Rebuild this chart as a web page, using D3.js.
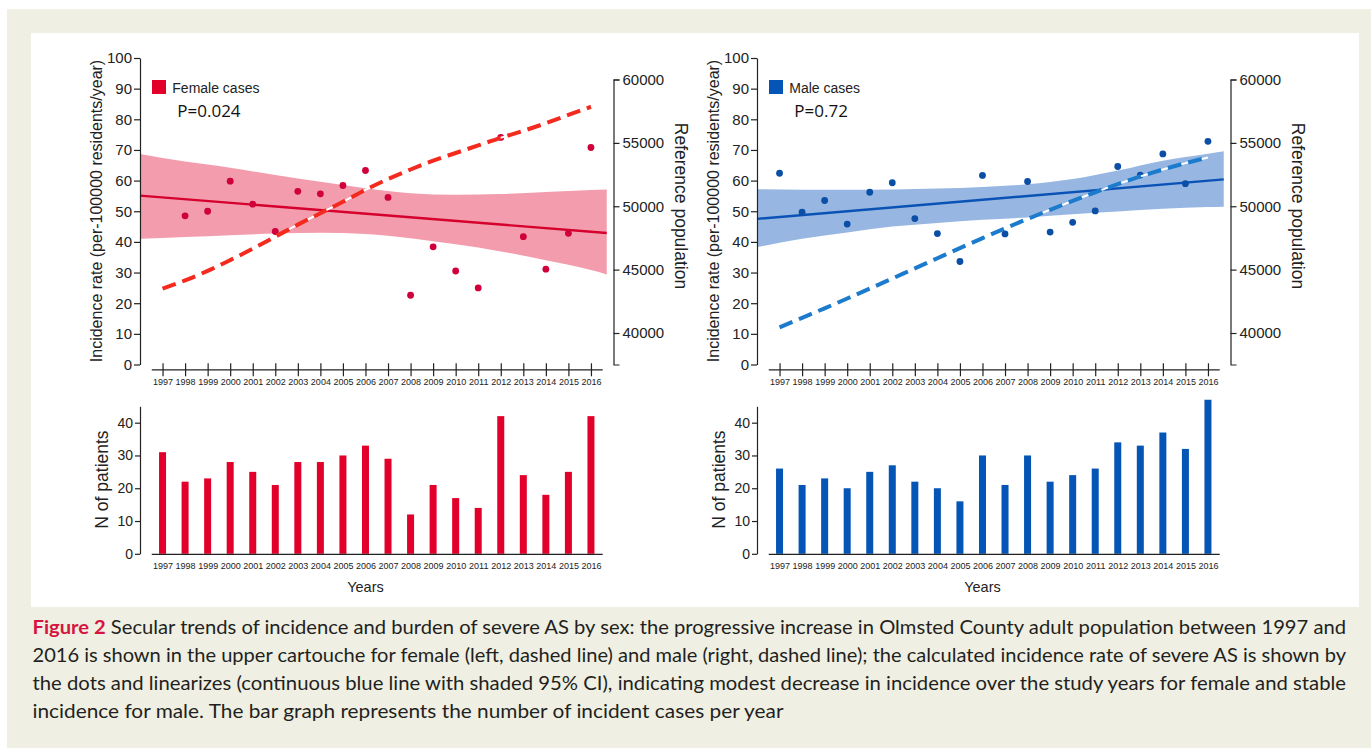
<!DOCTYPE html>
<meta charset="utf-8">

<!-- Load d3.js -->
<script src="https://d3js.org/d3.v7.min.js"></script>

<style>
  body {margin: 0; background: #fff;}
  svg {display: block; font-family: Arial, "Liberation Sans", sans-serif;}
</style>

<div id="my_dataviz"></div>

<script>

// ---- data ----
var years = [1997, 1998, 1999, 2000, 2001, 2002, 2003, 2004, 2005, 2006,
             2007, 2008, 2009, 2010, 2011, 2012, 2013, 2014, 2015, 2016];

// incidence rate (per 100000 residents/year), dots
var femaleRate = [null, 48.5, 50.0, 59.8, 52.3, 43.4, 56.5, 55.7, 58.4, 63.3,
                  54.5, 22.6, 38.4, 30.5, 25.0, 74.1, 41.7, 31.1, 42.8, 70.8];
var maleRate = [62.4, 49.7, 53.5, 45.8, 56.2, 59.3, 47.6, 42.7, 33.6, 61.7,
                42.6, 59.7, 43.2, 46.4, 50.1, 64.6, 61.8, 68.7, 59.0, 72.8];

// reference population, dashed lines
var femalePop = [43500, 44150, 44900, 45750, 46650, 47600, 48550, 49450, 50350, 51300,
                 52150, 52900, 53600, 54200, 54800, 55400, 55950, 56550, 57200, 57850];
var malePop = [40450, 41200, 41950, 42720, 43500, 44300, 45100, 45900, 46700, 47480,
               48250, 49000, 49720, 50420, 51100, 51750, 52350, 52900, 53400, 53850];

// N of patients, bars
var femaleN = [31, 22, 23, 28, 25, 21, 28, 28, 30, 33, 29, 12, 21, 17, 14, 42, 24, 18, 25, 42];
var maleN = [26, 21, 23, 20, 25, 27, 22, 20, 16, 30, 21, 30, 22, 24, 26, 34, 33, 37, 32, 47];

// linear fit and shaded 95% CI
var fitYears = [1996, 2016.7];
var femaleFit = [55.1, 42.9];
var maleFit = [47.5, 60.4];
var bandYears = [1996, 1998, 2000, 2002, 2004, 2006, 2008, 2010, 2012, 2014, 2016, 2016.7];
var femaleUpper = [68.7, 66.2, 64.2, 61.8, 59.6, 57.5, 55.9, 55.4, 55.6, 56.3, 56.9, 57.1];
var femaleLower = [41.0, 41.6, 42.2, 42.7, 43.0, 42.6, 41.2, 39.2, 36.9, 34.0, 30.8, 29.4];
var maleUpper = [57.2, 57.0, 57.0, 57.1, 57.4, 57.9, 58.8, 60.5, 63.3, 66.5, 68.8, 69.6];
var maleLower = [38.3, 41.0, 43.1, 45.0, 46.2, 47.2, 48.0, 49.0, 49.9, 50.8, 51.4, 51.5];

var rateTicks = [0, 10, 20, 30, 40, 50, 60, 70, 80, 90, 100];
var popTicks = [40000, 45000, 50000, 55000, 60000];
var nTicks = [0, 10, 20, 30, 40];

var captionLines = [
  "Secular trends of incidence and burden of severe AS by sex: the progressive increase in Olmsted County adult population between 1997 and",
  "2016 is shown in the upper cartouche for female (left, dashed line) and male (right, dashed line); the calculated incidence rate of severe AS is shown by",
  "the dots and linearizes (continuous blue line with shaded 95% CI), indicating modest decrease in incidence over the study years for female and stable",
  "incidence for male. The bar graph represents the number of incident cases per year"
];

// ---- page ----
var svg = d3.select("#my_dataviz")
  .append("svg")
    .attr("width", 1371)
    .attr("height", 748);

svg.append("rect").attr("x", 7).attr("y", 9).attr("width", 1364).attr("height", 739).attr("fill", "#efefe3");
svg.append("rect").attr("x", 31).attr("y", 33).attr("width", 1328).attr("height", 574).attr("fill", "#fff");

// scales shared by both panels (right panel is shifted)
var x = d3.scaleLinear().domain([1996, 2017]).range([140, 613.5]);
var xAxisScale = d3.scaleLinear().domain([1996.5, 2016.5]).range([x(1996.5), x(2016.5)]);
var yRate = d3.scaleLinear().domain([0, 100]).range([364.5, 58]);
var yPop = d3.scaleLinear().domain([37515, 60000]).range([364.5, 79.5]);
var yN = d3.scaleLinear().domain([0, 45]).range([553.8, 406.3]);

function styleAxis(ax, size) {
  ax.attr("font-family", "Arial, 'Liberation Sans', sans-serif")
    .attr("font-size", size);
  ax.selectAll("path, line").attr("stroke", "#222").attr("stroke-width", 1.2);
  ax.selectAll("text").attr("fill", "#222");
}

function drawPanel(dx, c) {
  var g = svg.append("g").attr("transform", "translate(" + dx + ",0)");

  // CI band
  var band = d3.area()
    .x(function(d, i) { return x(bandYears[i]); })
    .y0(function(d, i) { return yRate(c.lower[i]); })
    .y1(function(d, i) { return yRate(c.upper[i]); })
    .curve(d3.curveMonotoneX);
  g.append("path").datum(bandYears).attr("d", band).attr("fill", c.band);

  // fitted line
  g.append("line")
    .attr("x1", x(fitYears[0])).attr("y1", yRate(c.fit[0]))
    .attr("x2", x(fitYears[1])).attr("y2", yRate(c.fit[1]))
    .attr("stroke", c.line).attr("stroke-width", 2.4);

  // dots
  g.selectAll("circle.dot")
    .data(years.filter(function(d, i) { return c.rate[i] != null; }))
    .enter()
    .append("circle")
      .attr("class", "dot")
      .attr("cx", function(d) { return x(d); })
      .attr("cy", function(d) { return yRate(c.rate[years.indexOf(d)]); })
      .attr("r", 3.4)
      .attr("fill", c.dot);

  // population, dashed (white underlay shows through gaps over the band)
  var popLine = d3.line()
    .x(function(d) { return x(d); })
    .y(function(d, i) { return yPop(c.pop[i]); })
    .curve(d3.curveMonotoneX);
  g.append("path").datum(years).attr("d", popLine)
    .attr("fill", "none").attr("stroke", "#fff").attr("stroke-width", 2);
  g.append("path").datum(years).attr("d", popLine)
    .attr("fill", "none").attr("stroke", c.dash).attr("stroke-width", 4)
    .attr("stroke-dasharray", "14,7");

  // left axis
  var ay = g.append("g").attr("transform", "translate(" + x(1996) + ",0)")
    .call(d3.axisLeft(yRate).tickValues(rateTicks).tickSize(6).tickSizeOuter(0).tickPadding(2));
  styleAxis(ay, 15);

  // right axis
  var ap = g.append("g").attr("transform", "translate(" + x(2017) + ",0)")
    .call(d3.axisRight(yPop).tickValues(popTicks).tickFormat(d3.format("d")).tickSize(6).tickSizeOuter(6).tickPadding(3));
  styleAxis(ap, 15);

  // year axis with ticks crossing the line
  var ax = g.append("g").attr("transform", "translate(0,369.3)")
    .call(d3.axisBottom(xAxisScale).tickValues(years).tickFormat(d3.format("d")).tickSize(7).tickSizeOuter(0).tickPadding(2));
  ax.selectAll(".tick line").attr("y1", -6);
  styleAxis(ax, 9);

  // legend
  g.append("rect").attr("x", 152).attr("y", 80).attr("width", 14).attr("height", 14).attr("fill", c.bar);
  g.append("text").attr("x", 172.3).attr("y", 92.7).attr("font-size", 14).attr("fill", "#222").text(c.label);
  g.append("text").attr("x", 177.3).attr("y", 116.7).attr("font-size", 17)
    .attr("font-family", "'Open Sans', sans-serif").attr("fill", "#111").text(c.p);

  // axis titles
  g.append("text")
    .attr("transform", "translate(102,211) rotate(-90)")
    .attr("text-anchor", "middle").attr("font-size", 16).attr("fill", "#222")
    .text("Incidence rate (per-100000 residents/year)");
  g.append("text")
    .attr("transform", "translate(674.5,206) rotate(90)")
    .attr("text-anchor", "middle").attr("font-size", 17.5).attr("fill", "#222")
    .text("Reference population");

  // bars
  g.selectAll("rect.bar")
    .data(years)
    .enter()
    .append("rect")
      .attr("class", "bar")
      .attr("x", function(d) { return x(d) - 3.5; })
      .attr("width", 7)
      .attr("y", function(d, i) { return yN(c.n[i]); })
      .attr("height", function(d, i) { return yN(0) - yN(c.n[i]); })
      .attr("fill", c.bar);

  var bn = g.append("g").attr("transform", "translate(" + x(1996) + ",0)")
    .call(d3.axisLeft(yN).tickValues(nTicks).tickSize(5).tickSizeOuter(0).tickPadding(2));
  styleAxis(bn, 14);

  var bx = g.append("g").attr("transform", "translate(0," + yN(0) + ")")
    .call(d3.axisBottom(xAxisScale).tickValues(years).tickFormat(d3.format("d")).tickSize(0).tickSizeOuter(0).tickPadding(8.5));
  styleAxis(bx, 9);

  g.append("text")
    .attr("transform", "translate(107.5,479.5) rotate(-90)")
    .attr("text-anchor", "middle").attr("font-size", 17.5).attr("fill", "#222")
    .text("N of patients");
  g.append("text")
    .attr("x", 365.5).attr("y", 591.5)
    .attr("text-anchor", "middle").attr("font-size", 14.5).attr("fill", "#222")
    .text("Years");
}

drawPanel(0, {
  rate: femaleRate, pop: femalePop, n: femaleN, fit: femaleFit,
  upper: femaleUpper, lower: femaleLower,
  band: "#f29cad", line: "#d6002d", dot: "#d0003a", dash: "#f42a1e", bar: "#e2002b",
  label: "Female cases", p: "P=0.024"
});

drawPanel(617, {
  rate: maleRate, pop: malePop, n: maleN, fit: maleFit,
  upper: maleUpper, lower: maleLower,
  band: "#97b7e2", line: "#0a52b5", dot: "#0a4ea6", dash: "#1c7bcc", bar: "#0455b5",
  label: "Male cases", p: "P=0.72"
});

// caption
var cap = svg.append("g")
  .attr("font-family", "Lato, 'Open Sans', sans-serif")
  .attr("font-size", 19)
  .attr("fill", "#231f20");

var lineY = [634, 662, 690, 718];
var lineLen = [1313.5, 1313.5, 1313.5, 751];

captionLines.forEach(function(txt, i) {
  var t = cap.append("text")
    .attr("x", 32.5)
    .attr("y", lineY[i])
    .attr("textLength", lineLen[i])
    .attr("lengthAdjust", "spacingAndGlyphs");
  if (i === 0) {
    t.append("tspan").attr("font-weight", "bold").attr("fill", "#d5153f").text("Figure 2");
    t.append("tspan").text(" " + txt);
  } else {
    t.text(txt);
  }
});

</script>
